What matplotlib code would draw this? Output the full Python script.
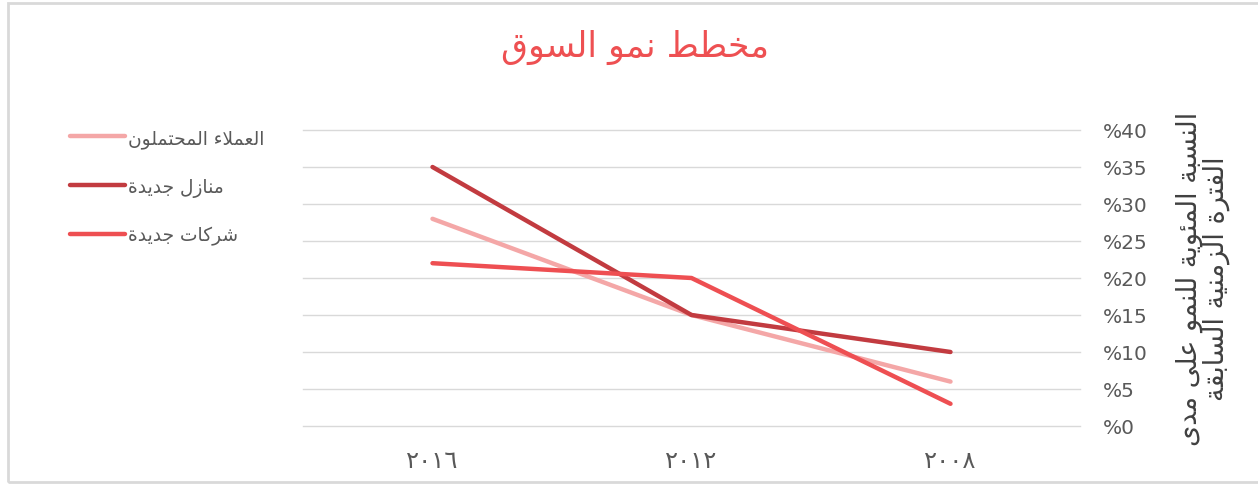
import matplotlib
matplotlib.use("Agg")
import matplotlib.pyplot as plt
from matplotlib.patches import Rectangle

# -------------------------------------------
# Data
# -------------------------------------------
years = ["٢٠١٦", "٢٠١٢", "٢٠٠٨"]
leads = [28, 15, 6]          # العملاء المحتملون
new_homes = [35, 15, 10]     # منازل جديدة
new_firms = [22, 20, 3]      # شركات جديدة
y_ticks = [0, 5, 10, 15, 20, 25, 30, 35, 40]

series_names = ["العملاء المحتملون", "منازل جديدة", "شركات جديدة"]
series_colors = ["#F4A7A7", "#C23B40", "#EE4F52"]
title_text = "مخطط نمو السوق"
ylabel_lines = ["النسبة المئوية للنمو على مدى", "الفترة الزمنية السابقة"]

# -------------------------------------------
# Tiny Arabic shaper (matplotlib has no shaping / bidi)
# 4 forms = dual joining, 2 forms = right joining, 1 = non joining
# -------------------------------------------
FORMS = {
    "ء": ("\uFE80",),
    "ا": ("\uFE8D", "\uFE8E"),
    "ب": ("\uFE8F", "\uFE90", "\uFE91", "\uFE92"),
    "ة": ("\uFE93", "\uFE94"),
    "ت": ("\uFE95", "\uFE96", "\uFE97", "\uFE98"),
    "ج": ("\uFE9D", "\uFE9E", "\uFE9F", "\uFEA0"),
    "ح": ("\uFEA1", "\uFEA2", "\uFEA3", "\uFEA4"),
    "خ": ("\uFEA5", "\uFEA6", "\uFEA7", "\uFEA8"),
    "د": ("\uFEA9", "\uFEAA"),
    "ر": ("\uFEAD", "\uFEAE"),
    "ز": ("\uFEAF", "\uFEB0"),
    "س": ("\uFEB1", "\uFEB2", "\uFEB3", "\uFEB4"),
    "ش": ("\uFEB5", "\uFEB6", "\uFEB7", "\uFEB8"),
    "ط": ("\uFEC1", "\uFEC2", "\uFEC3", "\uFEC4"),
    "ع": ("\uFEC9", "\uFECA", "\uFECB", "\uFECC"),
    "ف": ("\uFED1", "\uFED2", "\uFED3", "\uFED4"),
    "ق": ("\uFED5", "\uFED6", "\uFED7", "\uFED8"),
    "ك": ("\uFED9", "\uFEDA", "\uFEDB", "\uFEDC"),
    "ل": ("\uFEDD", "\uFEDE", "\uFEDF", "\uFEE0"),
    "م": ("\uFEE1", "\uFEE2", "\uFEE3", "\uFEE4"),
    "ن": ("\uFEE5", "\uFEE6", "\uFEE7", "\uFEE8"),
    "و": ("\uFEED", "\uFEEE"),
    "ى": ("\uFEEF", "\uFEF0"),
    "ي": ("\uFEF1", "\uFEF2", "\uFEF3", "\uFEF4"),
    "ئ": ("\uFE89", "\uFE8A", "\uFE8B", "\uFE8C"),
    "LA": ("\uFEFB", "\uFEFC"),
}


def shape(text):
    # merge lam + alef into one token
    toks = []
    i = 0
    while i < len(text):
        if text[i] == "ل" and i + 1 < len(text) and text[i + 1] == "ا":
            toks.append("LA")
            i += 2
        else:
            toks.append(text[i])
            i += 1
    out = []
    for k, t in enumerate(toks):
        f = FORMS.get(t)
        if f is None:
            out.append(t)
            continue
        prev = FORMS.get(toks[k - 1]) if k > 0 else None
        nxt = FORMS.get(toks[k + 1]) if k + 1 < len(toks) else None
        jp = len(f) >= 2 and prev is not None and len(prev) == 4
        jn = len(f) == 4 and nxt is not None and len(nxt) >= 2
        if jp and jn:
            out.append(f[3])
        elif jp:
            out.append(f[1])
        elif jn:
            out.append(f[2])
        else:
            out.append(f[0])
    return "".join(reversed(out))


# -------------------------------------------
# Plot
# -------------------------------------------
plt.rcParams["font.family"] = ["DejaVu Sans"]
grey = "#595959"

fig = plt.figure(figsize=(12.58, 4.85), dpi=100)
ax = fig.add_axes([303 / 1258, 1 - 427 / 485, (1080 - 303) / 1258, (427 - 131) / 485])

x = range(len(years))
for vals, name, col in zip([leads, new_homes, new_firms], series_names, series_colors):
    ax.plot(x, vals, color=col, linewidth=3.2, solid_capstyle="round", label=shape(name))

ax.set_xlim(-0.5, len(years) - 0.5)
ax.set_ylim(0, 40)
ax.set_yticks(y_ticks)
ax.set_yticklabels(["%" + str(v) for v in y_ticks])
ax.yaxis.tick_right()
ax.grid(axis="y", color="#D9D9D9", linewidth=1)
for gl in ax.get_ygridlines():
    gl.set_clip_on(False)
ax.set_axisbelow(True)
for s in ax.spines.values():
    s.set_visible(False)
ax.tick_params(axis="y", length=0, pad=16.5, labelsize=14.5, labelcolor=grey)
for lbl in ax.get_yticklabels():
    lbl.set_horizontalalignment("left")
ax.set_xticks(list(x))
ax.set_xticklabels(years)
ax.tick_params(axis="x", length=0, pad=16, labelsize=17.5, labelcolor=grey)

fig.text(635 / 1258, 1 - 47 / 485, shape(title_text), ha="center", va="center",
         fontsize=25, color="#EE5052")

fig.text(1203 / 1258, 1 - 279 / 485,
         "\n".join(shape(t) for t in ylabel_lines),
         rotation=90, ha="center", va="center", multialignment="center",
         fontsize=19.5, color="#404040", linespacing=0.97)

fig.legend(loc="upper left", bbox_to_anchor=(70 / 1258, 1 - 129 / 485),
           frameon=False, fontsize=13.4, labelcolor=grey, handlelength=2.96,
           handletextpad=0.16, labelspacing=1.56, borderpad=0, borderaxespad=0)

fig.patches.append(Rectangle((8 / 1258, 2 / 485), 1.2, 1 - 6 / 485, transform=fig.transFigure,
                             fill=False, edgecolor="#D9D9D9", linewidth=2))

plt.savefig("out.png", dpi=100)
